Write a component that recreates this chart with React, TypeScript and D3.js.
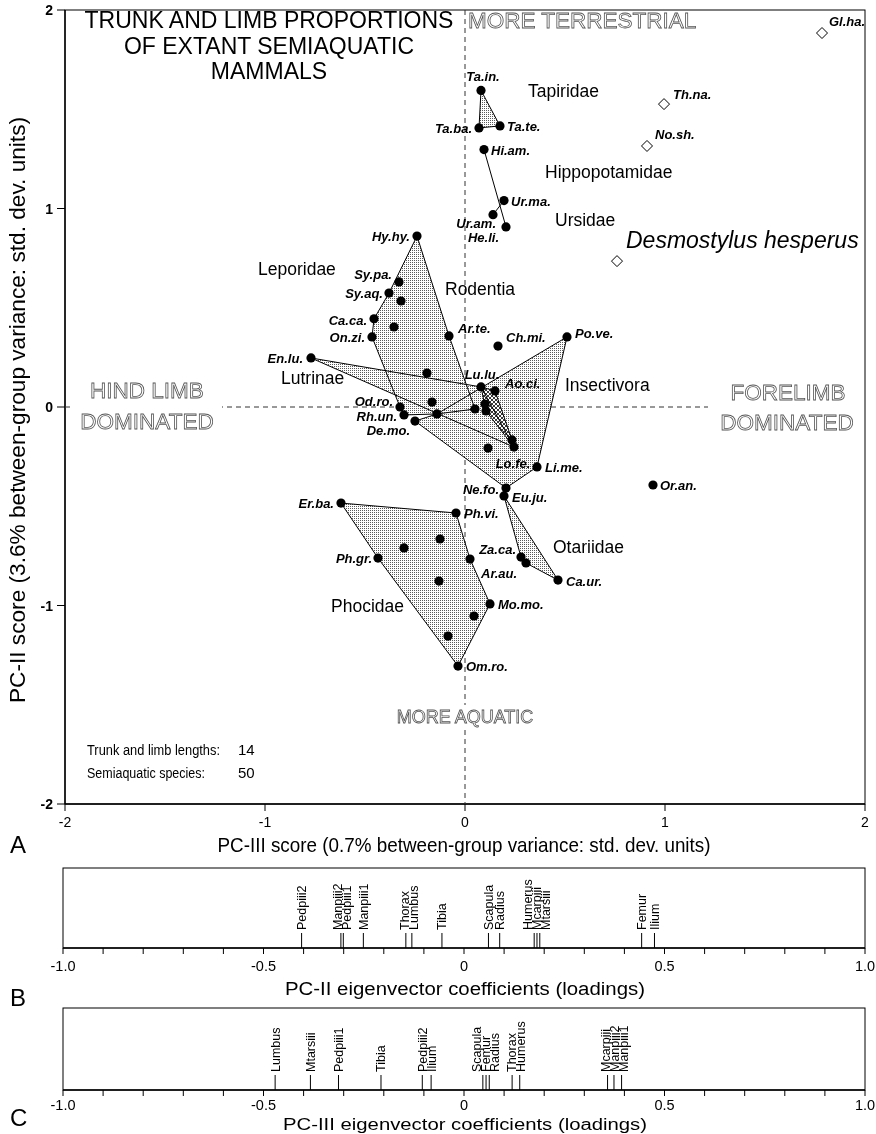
import React from "react";
import * as d3 from "d3";

// ---------- DATA ----------
// extant semiaquatic species: [label, PC-III score, PC-II score]; ids starting with "_" are unlabeled
const extantSpecies: [string, number, number][] = [
  ["Ta.in.", 0.08, 1.595], ["Ta.ba.", 0.07, 1.406], ["Ta.te.", 0.175, 1.416],
  ["Hi.am.", 0.095, 1.297], ["Ur.ma.", 0.195, 1.04], ["Ur.am.", 0.14, 0.969], ["He.li.", 0.205, 0.907],
  ["Hy.hy.", -0.24, 0.861], ["Sy.pa.", -0.33, 0.63], ["Sy.aq.", -0.38, 0.574], ["_r1", -0.32, 0.534],
  ["Ca.ca.", -0.455, 0.444], ["_r2", -0.355, 0.403], ["On.zi.", -0.465, 0.353], ["Ar.te.", -0.08, 0.358],
  ["Ch.mi.", 0.165, 0.307], ["Po.ve.", 0.51, 0.353], ["En.lu.", -0.77, 0.247], ["_u3", -0.19, 0.171],
  ["Lu.lu.", 0.08, 0.101], ["Ao.ci.", 0.15, 0.081], ["_u4", -0.165, 0.025], ["Od.ro.", -0.325, 0.0],
  ["Rh.un.", -0.305, -0.04], ["De.mo.", -0.25, -0.071], ["_u5", -0.14, -0.035], ["_u6", 0.05, -0.01],
  ["_u7", 0.105, -0.02], ["_u7b", 0.1, 0.015], ["_u8", 0.235, -0.166], ["Lo.fe.", 0.245, -0.202],
  ["_u9", 0.115, -0.207], ["Li.me.", 0.36, -0.302], ["Ne.fo.", 0.205, -0.408], ["Eu.ju.", 0.195, -0.448],
  ["Or.an.", 0.94, -0.393], ["Er.ba.", -0.62, -0.484], ["Ph.vi.", -0.045, -0.534], ["_p1", -0.125, -0.665],
  ["_p2", -0.305, -0.71], ["Ph.gr.", -0.435, -0.761], ["Ar.au.", 0.025, -0.766], ["Za.ca.", 0.28, -0.756],
  ["_o2", 0.305, -0.786], ["Ca.ur.", 0.465, -0.872], ["_p3", -0.13, -0.877], ["Mo.mo.", 0.125, -0.992],
  ["_p4", 0.045, -1.053], ["_p5", -0.085, -1.154], ["Om.ro.", -0.035, -1.305],
];

// fossil taxa (open diamonds)
const fossilTaxa: [string, number, number][] = [
  ["Gl.ha.", 1.785, 1.884], ["Th.na.", 0.995, 1.526], ["No.sh.", 0.91, 1.315],
];
const desmostylus: [string, number, number] = ["Desmostylus hesperus", 0.76, 0.735];

// group outlines (member order around each polygon)
const stippledGroups: string[][] = [
  ["Hy.hy.", "Ar.te.", "_u6", "_u5", "Rh.un.", "Od.ro.", "On.zi.", "Ca.ca.", "Sy.aq."],
  ["En.lu.", "Lu.lu.", "Lo.fe."],
  ["De.mo.", "_u5", "Po.ve.", "Li.me.", "Ne.fo."],
  ["Er.ba.", "Ph.vi.", "Ar.au.", "Mo.mo.", "Om.ro.", "Ph.gr."],
  ["Eu.ju.", "Ca.ur.", "_o2", "Za.ca."],
  ["Ta.in.", "Ta.te.", "Ta.ba."],
];
const hatchedGroups: string[][] = [["Lu.lu.", "Ao.ci.", "_u8", "Lo.fe.", "_u7"]];
const groupLines: string[][] = [["Hi.am.", "He.li."], ["Ur.ma.", "Ur.am."]];

// group names: [name, PC-III, PC-II] of the text start
const groupNames: [string, number, number][] = [
  ["Tapiridae", 0.315, 1.56], ["Hippopotamidae", 0.4, 1.154], ["Ursidae", 0.45, 0.912],
  ["Leporidae", -1.035, 0.665], ["Rodentia", -0.1, 0.564], ["Lutrinae", -0.92, 0.116],
  ["Insectivora", 0.5, 0.081], ["Otariidae", 0.44, -0.736], ["Phocidae", -0.67, -1.033],
];

const mainTicks = [-2, -1, 0, 1, 2];
const titleLines = ["TRUNK AND LIMB PROPORTIONS", "OF EXTANT SEMIAQUATIC", "MAMMALS"];
const countRows: [string, string][] = [["Trunk and limb lengths:", "14"], ["Semiaquatic species:", "50"]];

// eigenvector coefficients
const pc2Loadings: [string, number][] = [
  ["Pedpiii2", -0.405], ["Manpiii2", -0.307], ["Pedpiii1", -0.301], ["Manpiii1", -0.251],
  ["Thorax", -0.145], ["Lumbus", -0.13], ["Tibia", -0.055], ["Scapula", 0.061], ["Radius", 0.089],
  ["Humerus", 0.175], ["Mcarpiii", 0.182], ["Mtarsiii", 0.189], ["Femur", 0.443], ["Ilium", 0.475],
];
const pc3Loadings: [string, number][] = [
  ["Lumbus", -0.471], ["Mtarsiii", -0.383], ["Pedpiii1", -0.313], ["Tibia", -0.207],
  ["Pedpiii2", -0.104], ["Ilium", -0.082], ["Scapula", 0.047], ["Femur", 0.055], ["Radius", 0.063],
  ["Thorax", 0.12], ["Humerus", 0.139], ["Mcarpiii", 0.358], ["Manpiii2", 0.374], ["Manpiii1", 0.393],
];
const loadingTicks = [-1, -0.5, 0, 0.5, 1];
const loadingTickLabels = ["-1.0", "-0.5", "0", "0.5", "1.0"];
const minorLoadingTicks = d3.range(-10, 11).map((i) => i / 10);

// ---------- label placement (style) ----------
const labelPlace: Record<string, [string, number, number]> = {
  "Ta.in.": ["middle", 2, -9], "Ta.ba.": ["end", -7, 5], "Ta.te.": ["start", 7, 5],
  "Hi.am.": ["start", 7, 5], "Ur.ma.": ["start", 7, 5], "Ur.am.": ["end", 3, 13], "He.li.": ["end", -7, 15],
  "Hy.hy.": ["end", -7, 5], "Sy.pa.": ["end", -7, -3], "Sy.aq.": ["end", -6, 5], "Ca.ca.": ["end", -7, 6],
  "On.zi.": ["end", -7, 5], "Ar.te.": ["start", 9, -3], "Ch.mi.": ["start", 8, -4], "Po.ve.": ["start", 8, 1],
  "En.lu.": ["end", -8, 5], "Lu.lu.": ["middle", 1, -8], "Ao.ci.": ["start", 10, -3], "Od.ro.": ["end", -7, -1],
  "Rh.un.": ["end", -7, 6], "De.mo.": ["end", -5, 14], "Lo.fe.": ["middle", -1, 21], "Li.me.": ["start", 8, 5],
  "Ne.fo.": ["end", -7, 6], "Eu.ju.": ["start", 8, 6], "Or.an.": ["start", 7, 5], "Er.ba.": ["end", -7, 5],
  "Ph.vi.": ["start", 8, 5], "Ph.gr.": ["end", -6, 5], "Za.ca.": ["end", -5, -3], "Ar.au.": ["start", 11, 19],
  "Ca.ur.": ["start", 8, 6], "Mo.mo.": ["start", 8, 5], "Om.ro.": ["start", 8, 5],
  "Gl.ha.": ["start", 7, -7], "Th.na.": ["start", 9, -5], "No.sh.": ["start", 8, -7],
};

const SANS = "'Liberation Sans', Arial, Helvetica, sans-serif";
const NARROW = "'Liberation Sans Narrow', 'Arial Narrow', 'Liberation Sans', Arial, sans-serif";

function spread(xs: number[], gap: number): number[] {
  const idx = xs.map((v, i) => i).sort((a, b) => xs[a] - xs[b]);
  const pos = idx.map((i) => xs[i]);
  for (let iter = 0; iter < 50; iter++) {
    let moved = false;
    const clusters: number[][] = [];
    let cur = [0];
    for (let k = 1; k < pos.length; k++) {
      if (pos[k] - pos[k - 1] < gap - 0.01) cur.push(k);
      else { clusters.push(cur); cur = [k]; }
    }
    clusters.push(cur);
    for (const c of clusters) {
      if (c.length < 2) continue;
      const mean = d3.mean(c, (k) => xs[idx[k]]) as number;
      const start = mean - ((c.length - 1) * gap) / 2;
      c.forEach((k, j) => {
        const np = start + j * gap;
        if (Math.abs(np - pos[k]) > 0.01) moved = true;
        pos[k] = np;
      });
    }
    if (!moved) break;
  }
  const out = new Array(xs.length);
  idx.forEach((i, k) => (out[i] = pos[k]));
  return out;
}

function OutlineText({ x, y, text, anchor = "start", size = 22.5 }: { x: number; y: number; text: string; anchor?: string; size?: number }) {
  return (
    <text x={x} y={y} textAnchor={anchor} fontFamily={SANS} fontSize={size} fill="#fff" stroke="#555" strokeWidth={0.8}>
      {text}
    </text>
  );
}

function LoadingPanel({ data, top, axisY, title, titleLen, titleDy, titleSize, tickDy, letter, letterY }: {
  data: [string, number][]; top: number; axisY: number; title: string; titleLen: number; titleDy: number;
  titleSize: number; tickDy: number; letter: string; letterY: number;
}) {
  const xs = d3.scaleLinear().domain([-1, 1]).range([63, 865]);
  const lineTop = axisY - 15;
  const lx = spread(data.map((d) => xs(d[1])), 9);
  return (
    <g>
      <rect x={xs(-1)} y={top} width={xs(1) - xs(-1)} height={axisY - top} fill="none" stroke="#000" strokeWidth={1} />
      <line x1={xs(-1)} x2={xs(1)} y1={axisY} y2={axisY} stroke="#000" strokeWidth={1.4} />
      {minorLoadingTicks.map((t) => (
        <line key={t} x1={xs(t)} x2={xs(t)} y1={axisY} y2={axisY + 6} stroke="#000" strokeWidth={1} />
      ))}
      {loadingTicks.map((t, i) => (
        <text key={t} x={xs(t)} y={axisY + tickDy} textAnchor="middle" fontFamily={SANS} fontSize={14.5}>
          {loadingTickLabels[i]}
        </text>
      ))}
      {data.map((d, i) => (
        <g key={d[0]}>
          <line x1={xs(d[1])} x2={xs(d[1])} y1={axisY} y2={lineTop} stroke="#000" strokeWidth={1} />
          <text transform={`translate(${lx[i]},${lineTop - 3}) rotate(-90)`} dy="0.35em" fontFamily={SANS} fontSize={12.5}>
            {d[0]}
          </text>
        </g>
      ))}
      <text x={465} y={axisY + titleDy} textAnchor="middle" fontFamily={NARROW} fontSize={titleSize} textLength={titleLen} lengthAdjust="spacingAndGlyphs">
        {title}
      </text>
      <text x={10} y={letterY} fontFamily={SANS} fontSize={24}>
        {letter}
      </text>
    </g>
  );
}

export default function App() {
  const W = 876, H = 1134;
  const x = d3.scaleLinear().domain([-2, 2]).range([65, 865]);
  const y = d3.scaleLinear().domain([-2, 2]).range([804, 10]);
  const pos = new Map<string, [number, number]>();
  extantSpecies.forEach(([n, a, b]) => pos.set(n, [x(a), y(b)]));
  const line = d3.line<[number, number]>();
  const poly = (names: string[]) => (line(names.map((n) => pos.get(n)!)) as string) + "Z";
  const diamond = "M0,-5.5L5.5,0L0,5.5L-5.5,0Z";

  return (
    <svg width={W} height={H} style={{ position: "absolute", left: 0, top: 0, background: "#fff", filter: "grayscale(1)" }}>
      <defs>
        <pattern id="stip" width="2" height="2" patternUnits="userSpaceOnUse">
          <rect width="2" height="2" fill="#fff" />
          <rect width="1" height="1" fill="#5a5a5a" />
        </pattern>
        <pattern id="hatch" width="4" height="4" patternUnits="userSpaceOnUse">
          <rect width="4" height="4" fill="#fff" />
          <path d="M0,0L4,4M4,0L0,4" stroke="#222" strokeWidth={0.9} />
        </pattern>
      </defs>
      <rect width={W} height={H} fill="#fff" />

      {/* frame */}
      <rect x={x(-2)} y={y(2)} width={x(2) - x(-2)} height={y(-2) - y(2)} fill="none" stroke="#000" strokeWidth={1} />
      <line x1={x(-2)} x2={x(-2)} y1={y(2)} y2={y(-2)} stroke="#000" strokeWidth={1.4} />
      <line x1={x(-2)} x2={x(2)} y1={y(-2)} y2={y(-2)} stroke="#000" strokeWidth={1.4} />
      {mainTicks.map((t) => (
        <g key={"t" + t}>
          <line x1={x(-2) - 8} x2={x(-2)} y1={y(t)} y2={y(t)} stroke="#000" />
          <line x1={x(t)} x2={x(t)} y1={y(-2)} y2={y(-2) + 7} stroke="#000" />
          <text x={x(-2) - 12} y={y(t) + 5} textAnchor="end" fontFamily={SANS} fontSize={14} fontWeight="bold">
            {t}
          </text>
          <text x={x(t)} y={y(-2) + 23} textAnchor="middle" fontFamily={SANS} fontSize={14}>
            {t}
          </text>
        </g>
      ))}

      {/* zero lines */}
      <line x1={x(-2)} x2={x(2)} y1={y(0)} y2={y(0)} stroke="#333" strokeDasharray="5,4" />
      <line x1={x(0)} x2={x(0)} y1={y(2)} y2={y(-2)} stroke="#333" strokeDasharray="5,4" />

      {/* direction labels */}
      <rect x={70} y={380} width={152} height={56} fill="#fff" />
      <rect x={708} y={382} width={154} height={56} fill="#fff" />
      <rect x={390} y={705} width={150} height={24} fill="#fff" />
      <OutlineText x={468} y={28} text="MORE TERRESTRIAL" />
      <OutlineText x={147} y={398} text="HIND LIMB" anchor="middle" />
      <OutlineText x={147} y={429} text="DOMINATED" anchor="middle" />
      <OutlineText x={788} y={400} text="FORELIMB" anchor="middle" />
      <OutlineText x={787} y={430} text="DOMINATED" anchor="middle" />
      <OutlineText x={465} y={723} text="MORE AQUATIC" anchor="middle" size={18} />

      {/* title */}
      {titleLines.map((t, i) => (
        <text key={t} x={269} y={28 + i * 25.5} textAnchor="middle" fontFamily={SANS} fontSize={23}>
          {t}
        </text>
      ))}

      {/* polygons */}
      {stippledGroups.map((g, i) => (
        <path key={"s" + i} d={poly(g)} fill="url(#stip)" stroke="none" />
      ))}
      {hatchedGroups.map((g, i) => (
        <path key={"h" + i} d={poly(g)} fill="url(#hatch)" stroke="none" />
      ))}
      {[...stippledGroups, ...hatchedGroups].map((g, i) => (
        <path key={"o" + i} d={poly(g)} fill="none" stroke="#000" strokeWidth={1} strokeLinejoin="round" />
      ))}
      {groupLines.map((g, i) => (
        <path key={"l" + i} d={line(g.map((n) => pos.get(n)!)) as string} fill="none" stroke="#000" strokeWidth={1} />
      ))}

      {/* points */}
      {extantSpecies.map(([n, a, b]) => (
        <circle key={n} cx={x(a)} cy={y(b)} r={4.6} fill="#000" />
      ))}
      {[...fossilTaxa, desmostylus].map(([n, a, b]) => (
        <path key={n} d={diamond} transform={`translate(${x(a)},${y(b)})`} fill="#fff" stroke="#000" strokeWidth={1} />
      ))}

      {/* species labels */}
      {[...extantSpecies, ...fossilTaxa]
        .filter(([n]) => !n.startsWith("_"))
        .map(([n, a, b]) => {
          const p = labelPlace[n] || ["start", 7, 5];
          return (
            <text key={"lab" + n} x={x(a) + p[1]} y={y(b) + p[2]} textAnchor={p[0]} fontFamily={SANS} fontSize={13} fontWeight="bold" fontStyle="italic">
              {n}
            </text>
          );
        })}
      <text x={x(desmostylus[1]) + 9} y={y(desmostylus[2]) - 13} fontFamily={SANS} fontSize={23} fontStyle="italic">
        {desmostylus[0]}
      </text>

      {groupNames.map(([n, a, b]) => (
        <text key={n} x={x(a)} y={y(b)} fontFamily={SANS} fontSize={17.5}>
          {n}
        </text>
      ))}

      {/* counts */}
      {countRows.map(([k, v], i) => (
        <g key={k}>
          <text x={87} y={755 + i * 23} fontFamily={NARROW} fontSize={14} textLength={i === 0 ? 133 : 118} lengthAdjust="spacingAndGlyphs">{k}</text>
          <text x={238} y={755 + i * 23} fontFamily={NARROW} fontSize={15}>{v}</text>
        </g>
      ))}

      {/* axis titles */}
      <text x={464} y={852} textAnchor="middle" fontFamily={NARROW} fontSize={21} textLength={493} lengthAdjust="spacingAndGlyphs">
        PC-III score (0.7% between-group variance: std. dev. units)
      </text>
      <text transform={`translate(25,410) rotate(-90)`} textAnchor="middle" fontFamily={NARROW} fontSize={22} textLength={586} lengthAdjust="spacingAndGlyphs">
        PC-II score (3.6% between-group variance: std. dev. units)
      </text>
      <text x={10} y={853} fontFamily={SANS} fontSize={24}>A</text>

      <LoadingPanel data={pc2Loadings} top={868} axisY={948} title="PC-II eigenvector coefficients (loadings)" titleLen={360}
        titleDy={47} titleSize={18} tickDy={23} letter="B" letterY={1006} />
      <LoadingPanel data={pc3Loadings} top={1008} axisY={1090} title="PC-III eigenvector coefficients (loadings)" titleLen={364}
        titleDy={40} titleSize={16} tickDy={20} letter="C" letterY={1126} />
    </svg>
  );
}
